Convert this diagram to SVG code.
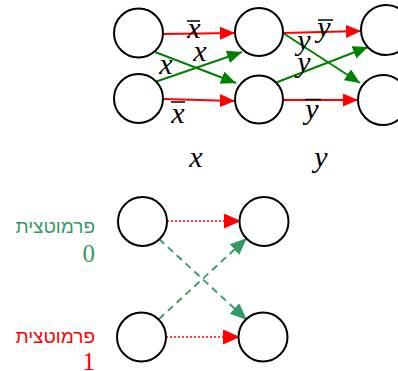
<svg xmlns="http://www.w3.org/2000/svg" width="398" height="371" viewBox="0 0 398 371">
<style>
.node{fill:#fff;stroke:#000;stroke-width:2}
.r{stroke:#ff0000;stroke-width:2;fill:none}
.g{stroke:#008000;stroke-width:2;fill:none}
.rd{stroke:#ff0000;stroke-width:1.6;fill:none;stroke-dasharray:2 2}
.gd{stroke:#339966;stroke-width:1.8;fill:none;stroke-dasharray:7 5}
.lbl{font-family:"Liberation Serif","Times New Roman",serif;font-style:italic;font-size:30px;fill:#000;text-anchor:middle}
.bar{stroke:#000;stroke-width:1.5}
.heb{font-family:"Liberation Sans",Arial,sans-serif;font-size:19px;text-anchor:end}
.num{font-family:"Liberation Serif","Times New Roman",serif;font-size:25px;text-anchor:end}
</style>
<defs>
<marker id="ar" markerUnits="userSpaceOnUse" markerWidth="16" markerHeight="14" refX="15" refY="6.5" orient="auto"><path d="M0,0 L15,6.5 L0,13 z" fill="#ff0000"/></marker>
<marker id="ag" markerUnits="userSpaceOnUse" markerWidth="16" markerHeight="14" refX="15" refY="6.5" orient="auto"><path d="M0,0 L15,6.5 L0,13 z" fill="#008000"/></marker>
<marker id="ard" markerUnits="userSpaceOnUse" markerWidth="18" markerHeight="16" refX="17" refY="7.5" orient="auto"><path d="M0,0 L17,7.5 L0,15 z" fill="#ff0000"/></marker>
<marker id="agd" markerUnits="userSpaceOnUse" markerWidth="18" markerHeight="16" refX="17" refY="7" orient="auto"><path d="M0,0 L17,7 L0,14 z" fill="#339966"/></marker>
</defs>
<g id="connectors">
<line class="r" x1="163" y1="34" x2="235" y2="33" marker-end="url(#ar)"/>
<line class="r" x1="163" y1="99" x2="235" y2="101" marker-end="url(#ar)"/>
<line class="g" x1="155" y1="52" x2="236" y2="83" marker-end="url(#ag)"/>
<line class="g" x1="155" y1="82" x2="242" y2="52" marker-end="url(#ag)"/>
<line class="r" x1="283" y1="33" x2="361" y2="31" marker-end="url(#ar)"/>
<line class="g" x1="283" y1="33" x2="360" y2="83" marker-end="url(#ag)"/>
<line class="g" x1="275" y1="83" x2="368" y2="47" marker-end="url(#ag)"/>
<line class="r" x1="283" y1="100" x2="358" y2="100" marker-end="url(#ar)"/>
<line class="rd" x1="167" y1="221" x2="241" y2="221" marker-end="url(#ard)"/>
<line class="rd" x1="166" y1="337" x2="240" y2="337" marker-end="url(#ard)"/>
<line class="gd" x1="159" y1="239" x2="247" y2="320" marker-end="url(#agd)"/>
<line class="gd" x1="159" y1="319" x2="247" y2="238" marker-end="url(#agd)"/>
</g>
<g id="labels">
<text class="lbl" x="194" y="38">x</text><line class="bar" x1="187" y1="21" x2="200" y2="21"/>
<text class="lbl" x="200" y="61">x</text>
<text class="lbl" x="166" y="74">x</text>
<text class="lbl" x="178" y="123">x</text><line class="bar" x1="171" y1="102" x2="185" y2="102"/>
<text class="lbl" x="324" y="37">y</text><line class="bar" x1="318" y1="20" x2="333" y2="20"/>
<text class="lbl" x="304" y="50">y</text>
<text class="lbl" x="304" y="72">y</text>
<text class="lbl" x="312" y="119">y</text><line class="bar" x1="305" y1="99.5" x2="321" y2="99.5"/>
<text class="lbl" x="196" y="167">x</text>
<text class="lbl" x="321" y="167">y</text>
</g>
<g id="perm0"><text class="heb" x="95" y="233" fill="#339966">פרמוטצית</text><text class="num" x="95" y="262" fill="#339966">0</text></g>
<g id="perm1"><text class="heb" x="95" y="343" fill="#ff0000">פרמוטצית</text><text class="num" x="95" y="370" fill="#ff0000">1</text></g>
<g id="n1"><circle class="node" cx="138.5" cy="33" r="24.5"/></g>
<g id="n2"><circle class="node" cx="138.5" cy="98.5" r="24.5"/></g>
<g id="n3"><circle class="node" cx="259" cy="32" r="24"/></g>
<g id="n4"><circle class="node" cx="259" cy="99.5" r="24"/></g>
<g id="n5"><circle class="node" cx="386" cy="30" r="25"/></g>
<g id="n6"><circle class="node" cx="383" cy="100" r="25"/></g>
<g id="n7"><circle class="node" cx="142.5" cy="221.5" r="24.5"/></g>
<g id="n8"><circle class="node" cx="264" cy="221.5" r="24.5"/></g>
<g id="n9"><circle class="node" cx="141.5" cy="337" r="24.5"/></g>
<g id="n10"><circle class="node" cx="263" cy="337" r="24.5"/></g>
</svg>
